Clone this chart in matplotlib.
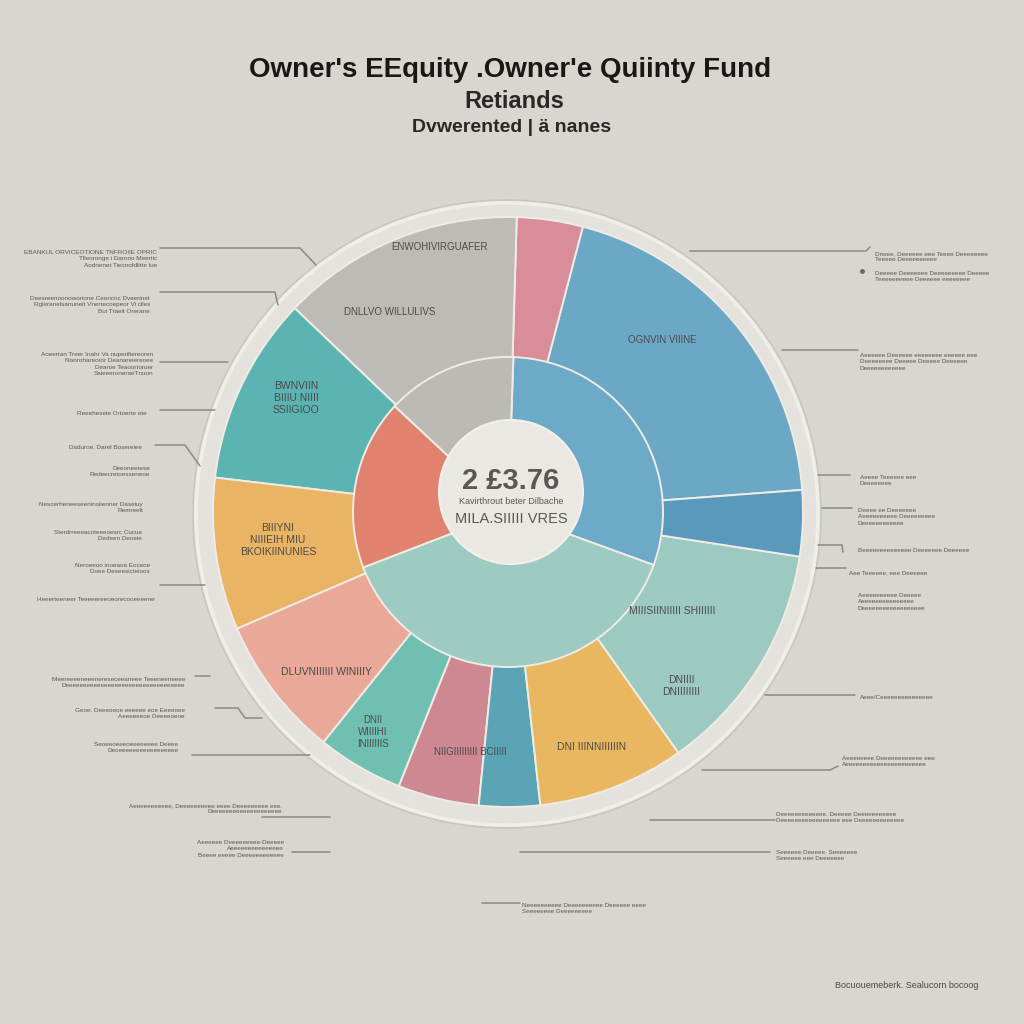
import matplotlib
matplotlib.use("Agg")
import matplotlib.pyplot as plt
from matplotlib.patches import Circle

# ---------------- data ----------------
outer_labels = ["Blue", "Pink", "Gray", "Teal", "Orange", "Salmon", "Teal green",
                "Mauve", "Dark teal", "Yellow", "Mint", "Dark blue"]
outer_values = [71, 13, 48, 37, 30, 28, 17, 16, 12, 29, 46, 13]
outer_colors = ["#6ba8c6", "#d98c99", "#bebbb6", "#5cb4b2", "#e9b463", "#e9a898",
                "#6fc0b1", "#cd8891", "#5aa4b6", "#e9b760", "#9ccac0", "#5a99bb"]

inner_labels = ["Blue", "Gray", "Coral", "Mint"]
inner_values = [108, 49, 64, 139]
inner_colors = ["#6caac7", "#bdbab5", "#e1826f", "#9dcac1"]

title_lines = ["Owner's EEquity .Owner'e Quiinty Fund", "Retiands", "Dvwerented | ä nanes"]
center_lines = ["2 £3.76", "Kavirthrout beter Dilbache", "MILA.SIIIII VRES"]

slice_texts = [
    ("ENWOHIVIRGUAFER", 440, 247, 7),
    ("DNLLVO WILLULIVS", 390, 312, 7),
    ("OGNVIN VIIINE", 662, 340, 7),
    ("BWNVIIN\nBIIIU NIIII\nSSIIGIOO", 296, 398, 7.5),
    ("BIIIYNI\nNIIIEIH MIU\nBKOIKIINUNIES", 278, 540, 7.5),
    ("DLUVNIIIIII WINIIIY", 326, 672, 7.5),
    ("DNII\nWIIIIHI\nINIIIIIIS", 373, 732, 7),
    ("NIIGIIIIIIIII BCIIIII", 470, 752, 7),
    ("DNI IIINNIIIIIIN", 592, 747, 7.5),
    ("MIIISIINIIIII SHIIIIII", 672, 611, 7.5),
    ("DNIIII\nDNIIIIIIII", 681, 686, 7.5),
]

left_texts = [
    ("EBANKUL ORVICEOTIONE TNFROIIE OPRIC\nTlleoronge i Darnoo Meertic\nAodnenet Tiecnofdlitte lue", 157, 250),
    ("Deesreenoonoworione Ceoncnc Dveerinet\nRgleranelsanuneit Vnertecoepeor Vi ciles\nBui Ttaeit Orerane", 150, 296),
    ("Aoeertan Treer Inahr Va nuperifiereoren\nNanrohareotor Deanareiereoee\nDearoe Teaoortoruer\nSaieeeroneraeTnuon", 153, 352),
    ("Reeeheseie Ortoerte ete", 147, 411),
    ("Daduroe. Darel Bosereiee", 142, 445),
    ("Deeoneetese\nRedeecretoesseneoe", 150, 466),
    ("Nescerheneeseeninsiienner Daseiuy\nRemreelt", 143, 502),
    ("Sterdrreeeacoteeeoesrc Cucue\nDedeen Deoeie", 142, 530),
    ("Neroeeoo inoeaoa Eoceoe\nDoee Deseesicteioos", 150, 563),
    ("Heeerteeneer Teeeeereeoeorecooeeeene", 155, 597),
    ("Meereeeeneeenereseceeaneee Teeeneeneeee\nDeeeeeeeeeeeeeeeeeeeeeeeeeeeeeeeeee", 185, 677),
    ("Geoe. Deeeoeoe eeeeee eoe Eeeeoee\nAeeeeeeoe Deeeeoeoe", 185, 708),
    ("Seoeeoeeeoeeeeeeee Deeee\nDeoeeeeeeeeeeeeeeeee", 178, 742),
    ("Aeeeeeeeeeee, Deeeeeeeeee eeee Deeeeeeeee eee.\nDeeeeeeeeeeeeeeeeeeee", 282, 803),
    ("Aeeeeee Deeeeeeeee-Deeeee\nAeeeeeeeeeeeeeee\nBeeee eeeee Deeeeeeeeeeee", 284, 840),
]

right_texts = [
    ("Dneee, Deeeeee eee Teeee Deeeeeeee\nTeeeee Deeeeeeeeee", 875, 251),
    ("Deeeee Deeeeeee Deeeeeeeee Deeeee\nTeeeeeeeeee Deeeeee eeeeeeee", 875, 271),
    ("Aeeeeee Deeeeee eeeeeeee eeeeee eee\nDeeeeeeee Deeeee Deeeee Deeeeee\nDeeeeeeeeeeee", 860, 353),
    ("Aeeee Teeeeee eee\nDeeeeeeee", 860, 475),
    ("Deeee ee Deeeeeee\nAeeeeeeeeee Deeeeeeeee\nDeeeeeeeeeeee", 858, 508),
    ("Beeeeeeeeeeeeee Deeeeeee Deeeeee", 858, 548),
    ("Aee Teeeeee, eee Deeeeee", 849, 570),
    ("Aeeeeeeeeee Deeeee\nAeeeeeeeeeeeeeee\nDeeeeeeeeeeeeeeeeee", 858, 593),
    ("Aeee/Ceeeeeeeeeeeeeee", 860, 695),
    ("Aeeeeeeee Deeeeeeeeeeee eee\nAeeeeeeeeeeeeeeeeeeeeeee", 842, 756),
    ("Deeeeeeeeeeeee. Deeeee Deeeeeeeeeee\nDeeeeeeeeeeeeeeeee eee Deeeeeeeeeeeee", 776, 812),
    ("Seeeeee Deeeee. Seeeeeee\nSeeeeee eee Deeeeeee", 776, 850),
    ("Neeeeeeeeee Deeeeeeeeee Deeeeee eeee\nSeeeeeeee Deeeeeeeee", 522, 903),
]

# leader lines in image pixels: list of polyline vertices
leader_lines = [
    [(160, 248), (300, 248), (316, 265)],
    [(160, 292), (275, 292), (278, 305)],
    [(160, 362), (228, 362)],
    [(160, 410), (215, 410)],
    [(155, 445), (185, 445), (200, 466)],
    [(160, 585), (205, 585)],
    [(195, 676), (210, 676)],
    [(215, 708), (238, 708), (245, 718), (262, 718)],
    [(192, 755), (310, 755)],
    [(262, 817), (330, 817)],
    [(292, 852), (330, 852)],
    [(690, 251), (866, 251), (870, 247)],
    [(782, 350), (858, 350)],
    [(818, 475), (850, 475)],
    [(822, 508), (852, 508)],
    [(818, 545), (842, 545), (843, 552)],
    [(816, 568), (846, 568)],
    [(765, 695), (855, 695)],
    [(702, 770), (830, 770), (838, 766)],
    [(650, 820), (775, 820)],
    [(520, 852), (770, 852)],
    [(482, 903), (520, 903)],
]

# ---------------- figure ----------------
W = H = 1024
fig = plt.figure(figsize=(10.24, 10.24), dpi=100)
fig.patch.set_facecolor("#d9d6d1")
ax = fig.add_axes([0, 0, 1, 1])
ax.set_facecolor("#d9d6d1")


def Y(y):
    return H - y


cx, cy = 508, Y(512)

# outer light ring
ax.add_patch(Circle((507, Y(514)), 314, facecolor="#e5e2dd", edgecolor="#c9c6c1", lw=1.2, zorder=1))
ax.add_patch(Circle((507, Y(514)), 311, facecolor="none", edgecolor="#f1eee9", lw=2.5, zorder=1))

wp = dict(edgecolor="#efebe5", linewidth=1.4)
ax.pie(outer_values, colors=outer_colors, startangle=4.3, counterclock=True,
       radius=295, center=(cx, cy), wedgeprops=wp, frame=True)
ax.pie(inner_values, colors=inner_colors, startangle=-20, counterclock=True,
       radius=155, center=(cx, cy), wedgeprops=wp, frame=True)

# centre disc
ax.add_patch(Circle((511, Y(492)), 72, facecolor="#ebe8e3", edgecolor="#f3f0eb", lw=1.5, zorder=5))

ax.text(511, Y(481), center_lines[0], ha="center", va="center", fontsize=21,
        fontweight="bold", color="#5a5856", family="Liberation Sans", zorder=6)
ax.text(511, Y(502), center_lines[1], ha="center", va="center", fontsize=6.5,
        color="#5a5856", family="Liberation Sans", zorder=6)
ax.text(511, Y(519), center_lines[2], ha="center", va="center", fontsize=10.5,
        color="#5a5856", family="Liberation Sans", zorder=6)

# slice labels
for txt, x, y, fs in slice_texts:
    ax.text(x, Y(y), txt, ha="center", va="center", fontsize=fs, color="#4c4a4a",
            family="Liberation Sans", linespacing=1.25, zorder=6)

# side labels
for txt, x, y in left_texts:
    ax.text(x, Y(y), txt, ha="right", va="top", fontsize=4.6, color="#5a5856",
            family="Liberation Sans", linespacing=1.35, zorder=6)
for txt, x, y in right_texts:
    ax.text(x, Y(y), txt, ha="left", va="top", fontsize=4.6, color="#5a5856",
            family="Liberation Sans", linespacing=1.35, zorder=6)
ax.plot([862], [Y(271)], marker="o", ms=2.5, color="#6a6866", zorder=6)

for pts in leader_lines:
    xs = [p[0] for p in pts]
    ys = [Y(p[1]) for p in pts]
    ax.plot(xs, ys, color="#8b8985", lw=1.1, zorder=4, solid_capstyle="round")

# titles
ax.text(510, Y(70), title_lines[0], ha="center", va="center", fontsize=20,
        fontweight="bold", color="#1a1817", family="Liberation Sans")
ax.text(514, Y(102), title_lines[1], ha="center", va="center", fontsize=17,
        fontweight="bold", color="#2a2827", family="Liberation Sans")
ax.text(512, Y(127), title_lines[2], ha="center", va="center", fontsize=14,
        fontweight="bold", color="#2a2827", family="Liberation Sans")

ax.text(835, Y(985), "Bocuouemeberk. Sealucorn bocoog", ha="left", va="center",
        fontsize=6.5, color="#4a4846", family="Liberation Sans")

ax.set_xlim(0, W)
ax.set_ylim(0, H)
ax.set_aspect("equal")
ax.axis("off")

fig.savefig("out.png", dpi=100, facecolor=fig.get_facecolor())
